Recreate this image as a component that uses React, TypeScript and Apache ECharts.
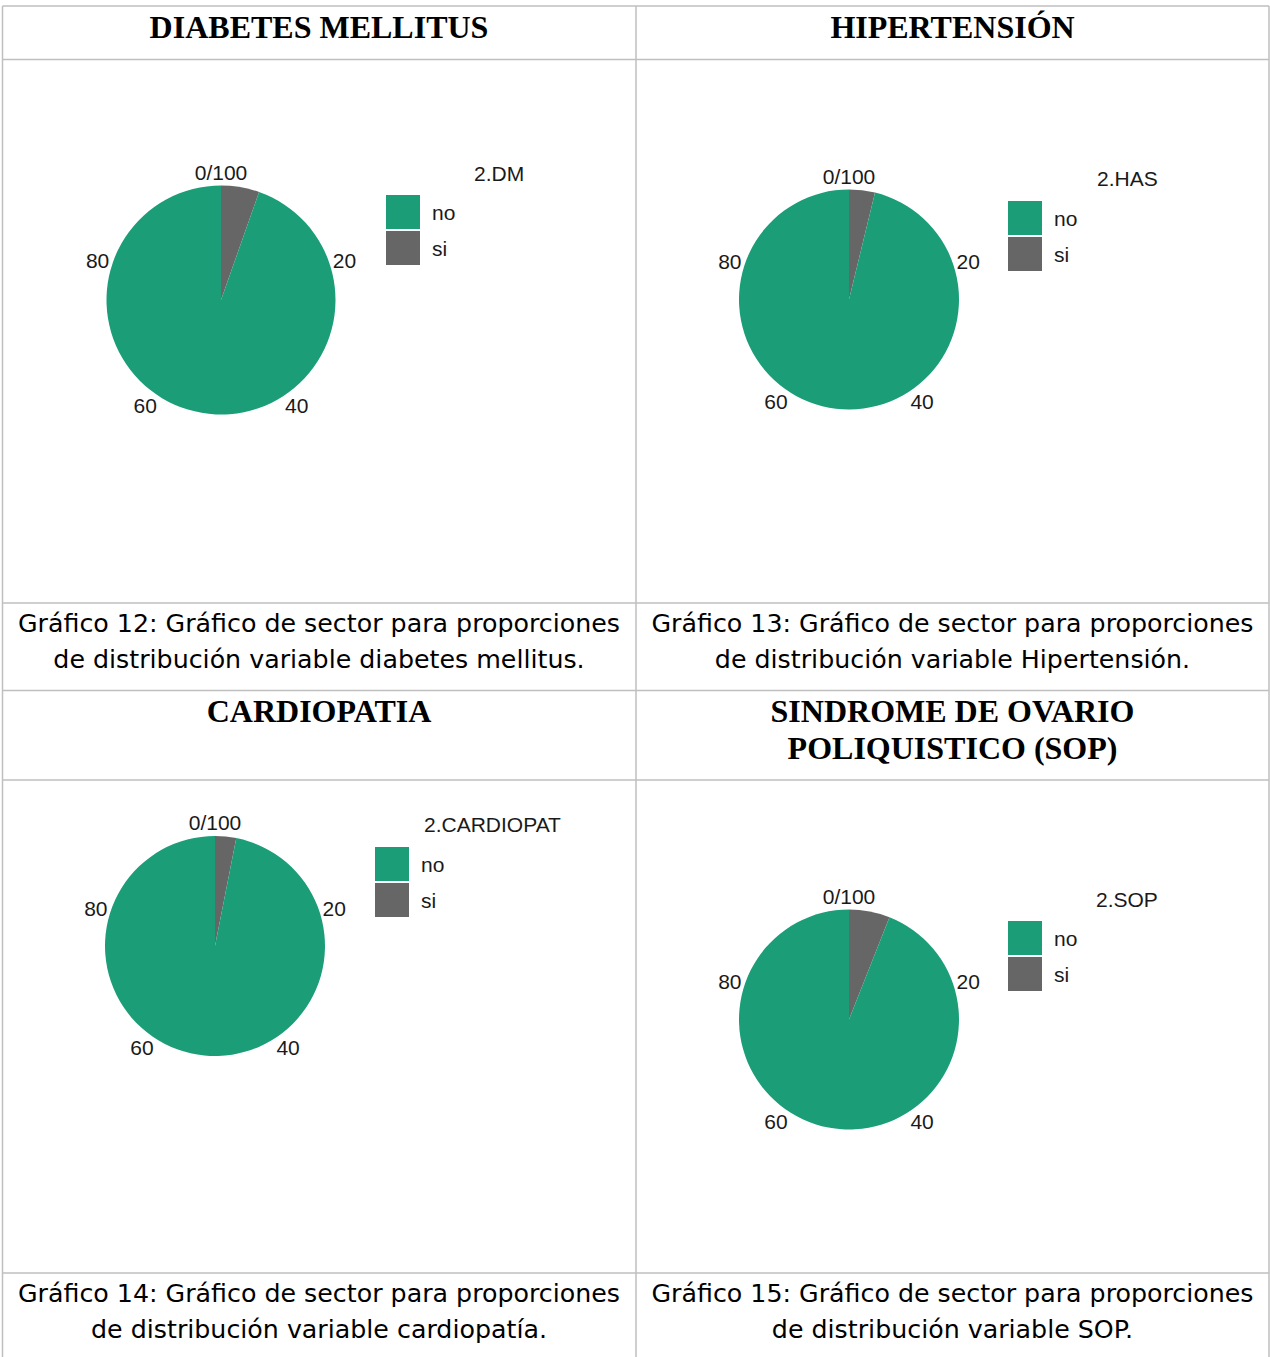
import React, { useEffect, useRef } from 'react';
import * as echarts from 'echarts';

// ---- data ----
const categories = ['no', 'si'];
const dmValues = [94.6, 5.4];
const hasValues = [96.2, 3.8];
const cardioValues = [96.9, 3.1];
const sopValues = [94.0, 6.0];
const tickValues = [0, 20, 40, 60, 80];
const tickLabels = ['0/100', '20', '40', '60', '80'];
const legendTitles = ['2.DM', '2.HAS', '2.CARDIOPAT', '2.SOP'];
const headers = ['DIABETES MELLITUS', 'HIPERTENSIÓN', 'CARDIOPATIA', 'SINDROME DE OVARIO\nPOLIQUISTICO (SOP)'];
const captions = [
  'Gráfico 12: Gráfico de sector para proporciones\nde distribución variable diabetes mellitus.',
  'Gráfico 13: Gráfico de sector para proporciones\nde distribución variable Hipertensión.',
  'Gráfico 14: Gráfico de sector para proporciones\nde distribución variable cardiopatía.',
  'Gráfico 15: Gráfico de sector para proporciones\nde distribución variable SOP.',
];
const seriesValues = [dmValues, hasValues, cardioValues, sopValues];
const colors = ['#1B9E77', '#666666'];

// ---- layout ----
const panels = [
  { cx: 221, cy: 300, r: 114.5, legendLeft: 386, legendTop: 195, titleLeft: 474, titleTop: 163 },
  { cx: 849, cy: 299.5, r: 110, legendLeft: 1008, legendTop: 201, titleLeft: 1097, titleTop: 168 },
  { cx: 215, cy: 946, r: 110, legendLeft: 375, legendTop: 847, titleLeft: 424, titleTop: 814 },
  { cx: 849, cy: 1019.5, r: 110, legendLeft: 1008, legendTop: 921, titleLeft: 1096, titleTop: 889 },
];
const headerPos = [
  { x: 319, y: 27 },
  { x: 952.5, y: 27 },
  { x: 319, y: 711 },
  { x: 952.5, y: 729.5 },
];
const captionPos = [
  { x: 319, y: 641 },
  { x: 952.5, y: 641 },
  { x: 319, y: 1311 },
  { x: 952.5, y: 1311 },
];
const hLines = [6, 59.5, 603, 690.5, 780, 1273];
const vLines = [2.5, 636, 1269];

const SANS = '"Liberation Sans", Arial, sans-serif';
const TEXT = '#1a1a1a';
const GRID = '#bfbfbf';
const FS = 21;

export default function App() {
  const ref = useRef<HTMLDivElement>(null);
  useEffect(() => {
    if (!ref.current) return;
    const chart = echarts.init(ref.current, null, { renderer: 'svg' });
    const labelBase = { fontSize: FS, fontFamily: SANS, color: TEXT };
    const option: any = {
      animation: false,
      backgroundColor: '#ffffff',
      title: panels.map((p, i) => ({
        text: legendTitles[i],
        left: p.titleLeft,
        top: p.titleTop,
        padding: 0,
        textStyle: { fontSize: FS, fontWeight: 'normal', fontFamily: SANS, color: TEXT },
      })),
      legend: panels.map((p) => ({
        data: categories,
        orient: 'vertical',
        left: p.legendLeft,
        top: p.legendTop,
        padding: 0,
        itemWidth: 34,
        itemHeight: 34,
        itemGap: 2,
        icon: 'rect',
        selectedMode: false,
        textStyle: { fontSize: FS, fontFamily: SANS, color: TEXT, padding: [0, 0, 0, 7] },
      })),
      polar: panels.map((p) => ({ center: [p.cx, p.cy], radius: [0, p.r] })),
      radiusAxis: panels.map((p, i) => ({ polarIndex: i, show: false, min: 0, max: 1 })),
      angleAxis: panels.map((p, i) => ({
        polarIndex: i,
        type: 'value',
        min: 0,
        max: 100,
        interval: 20,
        startAngle: 90,
        clockwise: true,
        axisLine: { show: false },
        axisTick: { show: false },
        splitLine: { show: false },
        axisLabel: {
          margin: 3,
          ...labelBase,
          formatter: (v: number) => {
            const idx = tickValues.indexOf(v);
            const lab = idx >= 0 ? tickLabels[idx] : String(v);
            if (v === 0) return `{t|${lab}}`;
            if (v === 20 || v === 80) return `{s|${lab}}`;
            if (v === 40) return `{bl|${lab}}`;
            return `{br|${lab}}`;
          },
          rich: {
            t: { ...labelBase, lineHeight: 21 },
            s: { ...labelBase, lineHeight: 6 },
            bl: { ...labelBase, lineHeight: 21, padding: [0, 0, 0, -5] },
            br: { ...labelBase, lineHeight: 21, padding: [0, -5, 0, 0] },
          },
        },
      })),
      series: panels.map((p, i) => ({
        type: 'pie',
        center: [p.cx, p.cy],
        radius: [0, p.r],
        startAngle: 90,
        clockwise: true,
        label: { show: false },
        labelLine: { show: false },
        emphasis: { disabled: true },
        silent: true,
        data: [
          { name: categories[1], value: seriesValues[i][1], itemStyle: { color: colors[1] } },
          { name: categories[0], value: seriesValues[i][0], itemStyle: { color: colors[0] } },
        ],
      })),
      graphic: [
        ...hLines.map((y) => ({
          type: 'line',
          shape: { x1: 2.5, y1: y, x2: 1269, y2: y },
          style: { stroke: GRID, lineWidth: 1.5 },
          silent: true,
        })),
        ...vLines.map((x) => ({
          type: 'line',
          shape: { x1: x, y1: 6, x2: x, y2: 1357 },
          style: { stroke: GRID, lineWidth: 1.5 },
          silent: true,
        })),
        ...headers.map((h, i) => ({
          type: 'text',
          x: headerPos[i].x,
          y: headerPos[i].y,
          style: {
            text: h,
            align: 'center',
            verticalAlign: 'middle',
            fontSize: 32,
            lineHeight: 37,
            fontWeight: 'bold',
            fontFamily: '"Liberation Serif", "Times New Roman", serif',
            fill: '#000000',
          },
        })),
        ...captions.map((c, i) => ({
          type: 'text',
          x: captionPos[i].x,
          y: captionPos[i].y,
          style: {
            text: c,
            align: 'center',
            verticalAlign: 'middle',
            fontSize: 25.3,
            lineHeight: 36,
            fontFamily: '"DejaVu Sans", sans-serif',
            fill: '#000000',
          },
        })),
      ],
    };
    chart.setOption(option);
    return () => chart.dispose();
  }, []);
  return (
    <div
      ref={ref}
      style={{ position: 'absolute', left: 0, top: 0, width: 1270, height: 1357, background: '#fff' }}
    />
  );
}
